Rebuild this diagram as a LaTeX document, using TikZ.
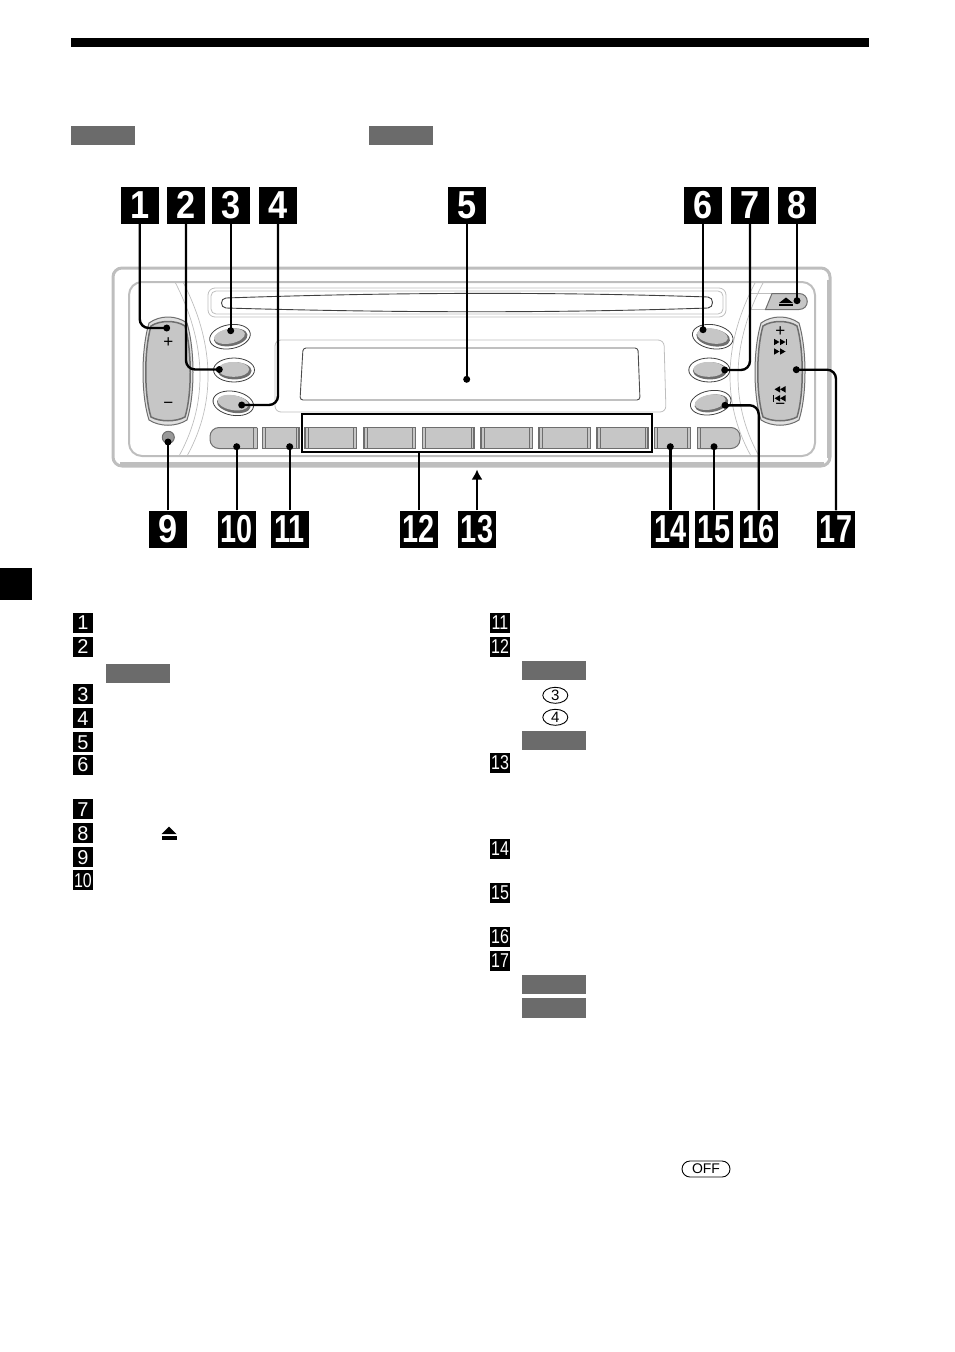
\documentclass[tikz,border=0pt]{standalone}
\usepackage{fontspec}
\setmainfont{Liberation Sans}
\usetikzlibrary{arrows.meta,shapes.geometric}
\definecolor{keygray}{HTML}{C6C6C6}
\definecolor{framegray}{HTML}{BEBEBE}
\definecolor{tabgray}{HTML}{6B6B6B}
\definecolor{edgegray}{HTML}{6E6E6E}
\tikzset{
  biglabel/.style={fill=black,text=white,minimum width=38pt,minimum height=37pt,inner sep=0pt,font=\fontsize{39}{39}\selectfont\bfseries},
  smalllabel/.style={fill=black,text=white,minimum width=20pt,minimum height=20pt,inner sep=0pt,font=\fontsize{20}{20}\selectfont},
  tabbox/.style={fill=tabgray,minimum width=64pt,minimum height=19pt,inner sep=0pt},
  spot/.style={circle,fill=black,minimum size=7pt,inner sep=0pt},
  leader/.style={draw=black,line width=2.4pt,rounded corners=9pt},
  oval/.style={ellipse,draw=black,line width=.9pt,minimum width=25pt,minimum height=16pt,inner sep=0pt,font=\fontsize{15}{15}\selectfont},
  keymark/.style={inner sep=0pt,font=\fontsize{17}{17}\selectfont},
  framing/.style={draw=framegray,line width=1.2pt}
}
\newcommand{\onedig}[1]{\scalebox{.88}[1]{#1}}
\newcommand{\twodig}[1]{\scalebox{.74}[1]{#1}}
\newcommand{\twosmall}[1]{\scalebox{.8}[1]{#1}}
\begin{document}
\begin{tikzpicture}[x=1pt,y=-1pt]
\useasboundingbox (0,0) rectangle (954,1352);

\fill[black] (71,38) rectangle (869,47);
\fill[black] (0,568) rectangle (32,600);
\node[tabbox] (headleft) at (103,135) {};
\node[tabbox] (headright) at (401,135) {};

\draw[draw=framegray,line width=3pt,rounded corners=9pt] (113,268) rectangle (830,466);
\draw[draw=framegray,line width=2.5pt] (120,463.5) -- (824,463.5) (828.5,280) -- (828.5,458);
\draw[framing,line width=2pt,rounded corners=13pt] (129,282) rectangle (815,456);
\draw[framing,rounded corners=7pt,line width=.8pt] (208,288) rectangle (726,317);
\draw[framing,rounded corners=5pt,line width=.8pt] (211,291) rectangle (723,314);
\draw[draw=black!75,line width=.9pt,fill=white] (226,298) .. controls (400,292) and (560,292) .. (708,297) .. controls (714,297) and (714,308) .. (708,308) .. controls (560,313) and (400,313) .. (226,308) .. controls (220,308) and (220,298) .. (226,298) -- cycle;
\draw[framing,line width=.8pt,rounded corners=6pt] (275,340) -- (275,412) -- (666,412) -- (664,340) -- cycle;
\draw[draw=black!70,line width=.9pt,rounded corners=3pt] (303,348) -- (300,400) -- (640,400) -- (638,348) -- cycle;

\foreach \sw in {0,8}{
  \draw[framing,line width=.7pt] (175+\sw,282) .. controls (205+\sw,340) and (210+\sw,400) .. (179+\sw,456);
  \draw[framing,line width=.7pt] (763-\sw,283) .. controls (733-\sw,340) and (728-\sw,400) .. (759-\sw,456);
}

\foreach \kx in {168,780}{
  \draw[draw=edgegray,line width=1pt,fill=black!12] (\kx-19,323) .. controls (\kx-8,315) and (\kx+8,315) .. (\kx+19,323) .. controls (\kx+27,350) and (\kx+27,395) .. (\kx+19,420) .. controls (\kx+8,427) and (\kx-8,427) .. (\kx-19,420) .. controls (\kx-27,395) and (\kx-27,350) .. (\kx-19,323) -- cycle;
  \draw[draw=edgegray,line width=1.5pt,fill=keygray] (\kx-17,326) .. controls (\kx-8,320) and (\kx+8,320) .. (\kx+17,326) .. controls (\kx+24,350) and (\kx+24,395) .. (\kx+17,417) .. controls (\kx+8,422) and (\kx-8,422) .. (\kx-17,417) .. controls (\kx-24,395) and (\kx-24,350) .. (\kx-17,326) -- cycle;
}
\node[keymark] (volplus) at (168.3,343) {+};
\node[keymark] (volminus) at (168.3,405.5) {−};
\node[keymark] (seekplus) at (780.3,332) {+};
\node[keymark] (seekminus) at (780.3,406) {−};
\foreach \sy in {342,351.5}{
  \fill (774,\sy-3.2) -- (779.5,\sy) -- (774,\sy+3.2) -- cycle;
  \fill (780,\sy-3.2) -- (785.5,\sy) -- (780,\sy+3.2) -- cycle;
}
\fill (786,338.8) rectangle (787.2,345.2);
\foreach \sy in {389.3,398.3}{
  \fill (780,\sy) -- (785.5,\sy-3.2) -- (785.5,\sy+3.2) -- cycle;
  \fill (774.5,\sy) -- (780,\sy-3.2) -- (780,\sy+3.2) -- cycle;
}
\fill (773,395.1) rectangle (774.2,401.5);

\foreach \bx/\by/\ba in {230/336.7/10,234/370/0,233.3/403.3/-10,712.7/336.7/-10,709.3/370/0,710.7/402.7/10}{
  \draw[draw=black!75,line width=.8pt,fill=white,rotate around={\ba:(\bx,\by)}] (\bx,\by) ellipse (20.5pt and 12pt);
  \fill[edgegray,rotate around={\ba:(\bx,\by)}] (\bx+.6,\by+.8) ellipse (17pt and 8.6pt);
  \fill[keygray,rotate around={\ba:(\bx,\by)}] (\bx-.4,\by-.6) ellipse (15.6pt and 7.4pt);
}

\draw[draw=edgegray,line width=1pt,fill=keygray,rounded corners=9pt] (257,427.5) -- (210,427.5) -- (210,448.5) -- (257,448.5);
\draw[draw=edgegray,line width=1pt,fill=keygray,rounded corners=9pt] (697,427.5) -- (740,427.5) -- (740,448.5) -- (697,448.5);
\foreach \ka/\kb in {262.5/299,305/356.5,364/415.5,422.5/474,481/532.5,539/590.5,597/648,654.5/690.5}{
  \draw[draw=edgegray,line width=1.1pt,fill=keygray] (\ka,427.5) rectangle (\kb,448.5);
  \draw[draw=edgegray,line width=1pt] (\ka+3,427.5) -- (\ka+3,448.5) (\kb-3,427.5) -- (\kb-3,448.5);
}
\draw[draw=edgegray,line width=1pt] (253.5,427.5) -- (253.5,448.5) (257,427.5) -- (257,448.5) (697,427.5) -- (697,448.5) (700.5,427.5) -- (700.5,448.5);

\draw[draw=framegray,line width=.8pt] (750,293) -- (772,293) (750,309) -- (765,309);
\draw[draw=edgegray,line width=1pt,fill=keygray] (772,293.5) -- (799,293.5) .. controls (810,293.5) and (810,309.5) .. (799,309.5) -- (765.5,309.5) -- cycle;
\fill (786,297.5) -- (793,303) -- (779,303) -- cycle;
\fill (779,304.3) rectangle (793,306.3);
\draw[draw=edgegray,line width=1pt,fill=edgegray!70] (168.3,437.3) circle (6pt);

\node[draw=black,line width=2pt,minimum width=350pt,minimum height=37.7pt,inner sep=0pt] (presets) at (476.7,433.2) {};

\foreach \nn/\nx/\ny/\nt in {one/139.7/205/1,two/186/205/2,three/230.7/205/3,four/278/205/4,five/466.7/205/5,six/703/205/6,seven/750/205/7,eight/797/205/8,nine/168/529/9}{
  \node[biglabel] (big\nn) at (\nx,\ny) {\onedig{\nt}};
}
\foreach \nn/\nx/\nt in {ten/236.7/10,eleven/289.7/11,twelve/418.7/12,thirteen/477/13,fourteen/670.3/14,fifteen/714/15,sixteen/758.7/16,seventeen/836/17}{
  \node[biglabel] (big\nn) at (\nx,529) {\twodig{\nt}};
}

\node[spot] (spotone) at (166.7,328) {};
\node[spot] (spottwo) at (219.3,369.5) {};
\node[spot] (spotthree) at (230.7,330.7) {};
\node[spot] (spotfour) at (241.7,405) {};
\node[spot] (spotfive) at (466.7,379.3) {};
\node[spot] (spotsix) at (703,329.7) {};
\node[spot] (spotseven) at (724.7,370) {};
\node[spot] (spoteight) at (797,300.7) {};
\node[spot] (spotnine) at (168,442) {};
\node[spot] (spotten) at (236.7,446.7) {};
\node[spot] (spoteleven) at (289.7,446.7) {};
\node[spot] (spotfourteen) at (670.3,446.7) {};
\node[spot] (spotfifteen) at (714,446.7) {};
\node[spot] (spotsixteen) at (725,405.3) {};
\node[spot] (spotseventeen) at (796.3,369.7) {};
\coordinate (tipthirteen) at (477,469.5);

\draw[leader] (bigone.south) |- (spotone.center);
\draw[leader] (bigtwo.south) |- (spottwo.center);
\draw[leader] (bigthree.south) -- (spotthree.center);
\draw[leader] (bigfour.south) |- (spotfour.center);
\draw[leader] (bigfive.south) -- (spotfive.center);
\draw[leader] (bigsix.south) -- (spotsix.center);
\draw[leader] (bigseven.south) |- (spotseven.center);
\draw[leader] (bigeight.south) -- (spoteight.center);
\draw[leader] (bignine.north) -- (spotnine.center);
\draw[leader] (bigten.north) -- (spotten.center);
\draw[leader] (bigeleven.north) -- (spoteleven.center);
\draw[leader] (bigtwelve.north) -- (bigtwelve.north |- presets.south);
\draw[leader,-{Latex[length=10pt,width=11pt]}] (bigthirteen.north) -- (tipthirteen);
\draw[leader] (bigfourteen.north) -- (spotfourteen.center);
\draw[leader] (bigfifteen.north) -- (spotfifteen.center);
\draw[leader] (bigsixteen.north) |- (spotsixteen.center);
\draw[leader] (bigseventeen.north) |- (spotseventeen.center);

\foreach \ln/\lx/\ly/\lt in {a/83/623/1,b/83/647/2,c/83/694.3/3,d/83/718.3/4,e/83/742.3/5,f/83/765/6,g/83/809.3/7,h/83/833.3/8,i/83/857.3/9}{
  \node[smalllabel] (small\ln) at (\lx,\ly) {\lt};
}
\foreach \ln/\lx/\ly/\lt in {j/83/880.3/10,k/500/623/11,l/500/647/12,m/500/763/13,n/500/848.7/14,o/500/892.7/15,p/500/936.7/16,q/500/960.7/17}{
  \node[smalllabel] (small\ln) at (\lx,\ly) {\twosmall{\lt}};
}
\node[tabbox] (notea) at (138,673.3) {};
\node[tabbox] (noteb) at (554,670.5) {};
\node[tabbox] (notec) at (554,740.5) {};
\node[tabbox] (noted) at (554,984.5) {};
\node[tabbox,minimum height=20pt] (notee) at (554,1008) {};
\node[oval] (ovalthree) at (555.3,695.3) {3};
\node[oval] (ovalfour) at (555.3,717.3) {4};
\node[oval,rounded corners=8pt,rectangle,minimum width=48pt,font=\fontsize{14}{14}\selectfont] (ovaloff) at (706,1169) {OFF};
\fill (169,826.5) -- (176.5,834) -- (161.5,834) -- cycle;
\fill (161.5,836) rectangle (176.5,840);
\end{tikzpicture}
\end{document}
